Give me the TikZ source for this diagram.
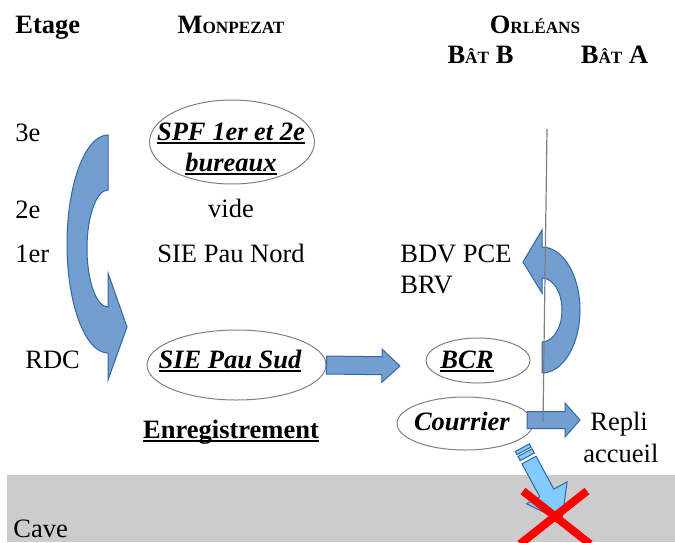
\documentclass[tikz,border=0pt]{standalone}
\usepackage{fontspec}
\setmainfont{Liberation Serif}
\usetikzlibrary{shapes.geometric,calc}
\definecolor{arrowblue}{HTML}{729FCF}
\definecolor{arrowline}{HTML}{3465A4}
\definecolor{skyblue}{HTML}{83CAFF}
\definecolor{cavegray}{HTML}{CCCCCC}
\definecolor{ovalgray}{HTML}{808080}
\newsavebox{\ulnbox}
\newcommand{\uln}[1]{\sbox{\ulnbox}{#1}\rlap{\vrule height -1.2pt depth 1.9pt width \wd\ulnbox}\usebox{\ulnbox}}
\newcommand{\fsc}[2]{#1{\fontsize{8.6}{10}\selectfont #2}}
\newcommand{\blockarrow}[6]{%
  \coordinate (bh) at ($(#3)!#6!(#2)$);
  \draw[#1] ($(#2)!#4!90:(#3)$) -- ($(bh)!#4!-90:(#2)$) -- ($(bh)!#5!-90:(#2)$) -- (#3)
    -- ($(bh)!#5!90:(#2)$) -- ($(bh)!#4!90:(#2)$) -- ($(#2)!#4!-90:(#3)$) -- cycle;}
\begin{document}
\begin{tikzpicture}[x=0.5pt, y=-0.5pt]
      \useasboundingbox (0,0) rectangle (675,542);
      \tikzstyle{bluearrow} = [fill=arrowblue, draw=arrowline, line width=0.5pt]
      \tikzstyle{skyarrow} = [fill=skyblue, draw=arrowline, line width=0.5pt]
      \fill[cavegray] (7,475) rectangle (675,542);

      \tikzstyle{every node} = [draw=ovalgray, ellipse, line width=0.5pt, inner sep=0pt]
      \node[minimum width=82.5pt, minimum height=42pt] (spf) at (232,142) {};
      \node[minimum width=89.5pt, minimum height=35pt] (sud) at (236.5,365) {};
      \node[minimum width=52pt, minimum height=22.5pt] (bcr) at (478,360.5) {};
      \node[minimum width=68pt, minimum height=26.5pt] (courrier) at (465,423.5) {};

      \tikzstyle{every node} = [inner sep=0pt, font=\fontsize{13.25}{16}\selectfont]
      \node[anchor=base west] (etage) at (15,33) {\textbf{Etage}};
      \node[anchor=base] (monpezat) at (231,33) {\textbf{\fsc{M}{ONPEZAT}}};
      \node[anchor=base] (orleans) at (535,33) {\textbf{\fsc{O}{RLÉANS}}};
      \node[anchor=base] (batb) at (480.5,63) {\textbf{\fsc{B}{ÂT} B}};
      \node[anchor=base] (bata) at (614.5,63) {\textbf{\fsc{B}{ÂT} A}};
      \node[anchor=base west] (e3) at (15,141) {3e};
      \node[anchor=base west] (e2) at (15,218) {2e};
      \node[anchor=base west] (e1) at (15,262) {1er};
      \node[anchor=base west] (rdc) at (25,368) {RDC};
      \node[anchor=base west] (cave) at (13,537) {Cave};
      \node[anchor=base] (spf1) at (231,140) {\textbf{\textit{\uln{SPF 1er et 2e}}}};
      \node[anchor=base] (spf2) at (231,171) {\textbf{\textit{\uln{bureaux}}}};
      \node[anchor=base] (vide) at (231,217) {vide};
      \node[anchor=base] (nord) at (231,262) {SIE Pau Nord};
      \node[anchor=base] (sudtxt) at (230,368) {\textbf{\textit{\uln{SIE Pau Sud}}}};
      \node[anchor=base] (enreg) at (231,438) {\textbf{\uln{Enregistrement}}};
      \node[anchor=base west] (bdv) at (400,262) {BDV PCE};
      \node[anchor=base west] (brv) at (400,293) {BRV};
      \node[anchor=base] (bcrtxt) at (467,368) {\textbf{\textit{\uln{BCR}}}};
      \node[anchor=base] (courtxt) at (462,430) {\textbf{\textit{Courrier}}};
      \node[anchor=base west] (repli) at (590,430) {Repli};
      \node[anchor=base west] (accueil) at (583,462) {accueil};

      \draw[bluearrow] (108,135) .. controls (85.4,135) and (67,183.8) .. (67,244)
        .. controls (67,304.2) and (85.4,353) .. (108,353) -- (108,380) -- (127,327)
        -- (108,273) -- (108,307) .. controls (96.4,307) and (87,280.8) .. (87,248.5)
        .. controls (87,216.2) and (96.4,190) .. (108,190) -- cycle;
      \draw[bluearrow] (542,373) .. controls (563,373) and (580,344.8) .. (580,310)
        .. controls (580,275.2) and (563,247) .. (542,247) -- (542,230) -- (523,262)
        -- (542,293) -- (542,278) .. controls (553,278) and (562,292.3) .. (562,310)
        .. controls (562,327.7) and (553,342) .. (542,342) -- cycle;

      \coordinate (bcrin) at (400,366);
      \coordinate (courout) at (527,420);
      \coordinate (replitip) at (580,420);
      \coordinate (descstart) at (529,460);
      \coordinate (desctip) at (562,521);
      \blockarrow{bluearrow}{sud.east}{bcrin}{4.5pt}{8.25pt}{9pt}
      \blockarrow{bluearrow}{courout}{replitip}{4.25pt}{8.5pt}{7.5pt}
      \blockarrow{skyarrow}{descstart}{desctip}{4pt}{11.5pt}{16pt}
      \foreach \ta/\tb in {-7pt/-5.2pt, -4.2pt/-1.8pt} {
        \coordinate (ba) at ($(descstart)!\ta!(desctip)$);
        \coordinate (bb) at ($(descstart)!\tb!(desctip)$);
        \draw[skyarrow] ($(ba)!4pt!90:(desctip)$) -- ($(bb)!4pt!90:(desctip)$)
          -- ($(bb)!4pt!-90:(desctip)$) -- ($(ba)!4pt!-90:(desctip)$) -- cycle;
      }

      \coordinate (linetop) at (547,129);
      \coordinate (linebot) at (543,422);
      \draw[ovalgray, line width=0.6pt] (linetop) -- (linebot);

      \draw[red, line width=4pt] (523,491) -- (590,544);
      \draw[red, line width=4pt] (587,491) -- (520,544);
    \end{tikzpicture}
\end{document}
